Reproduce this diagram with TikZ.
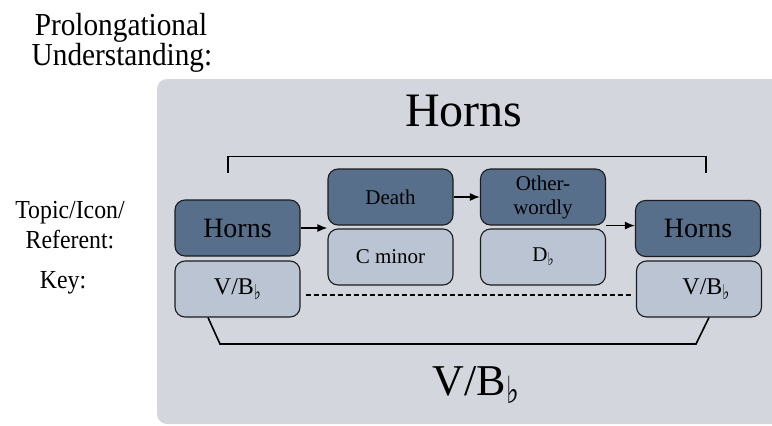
\documentclass[tikz,border=0pt]{standalone}
\usepackage{fontspec}
\setmainfont{Liberation Serif}
\newfontfamily\symfnt{DejaVu Sans}
\usetikzlibrary{arrows.meta,calc}
\definecolor{panelc}{RGB}{211,214,221}
\definecolor{darkbox}{RGB}{88,111,140}
\definecolor{lightbox}{RGB}{186,196,210}
\definecolor{edgec}{RGB}{28,28,30}
\newcommand\sqz[1]{\scalebox{0.915}[1]{#1}}
\newcommand\flt{\raisebox{-0.2em}{\scalebox{0.62}[0.85]{\symfnt ♭}}}
\begin{document}
\begin{tikzpicture}[x=1pt,y=-1pt,
  topbox/.style={draw=edgec, line width=1.1pt, fill=darkbox, rounded corners=10pt,
    minimum width=125pt, minimum height=56pt, inner sep=0pt, align=center,
    font=\fontsize{21}{24}\selectfont},
  keybox/.style={topbox, fill=lightbox},
  bigtext/.style={font=\fontsize{28}{32}\selectfont},
  midtext/.style={font=\fontsize{24}{28}\selectfont},
  sidelabel/.style={anchor=base, inner sep=0pt, font=\fontsize{26}{30}\selectfont},
  headlabel/.style={anchor=base, inner sep=0pt, font=\fontsize{32}{36}\selectfont},
  bracket/.style={line width=1.8pt, draw=black},
  conn/.style={line width=1.5pt, -{Latex[length=10pt,width=8pt]}},
  dashconn/.style={line width=1.5pt, dash pattern=on 5pt off 3pt}
]
\clip (0,0) rectangle (772,426);
\useasboundingbox (0,0) rectangle (772,426);
\fill[white] (0,0) rectangle (772,426);
% panel
\fill[panelc, rounded corners=10pt] (157,79) rectangle (800,424);

% left labels
\node[headlabel] (pl1) at (121,35) {\sqz{Prolongational}};
\node[headlabel] (pl2) at (122,65) {\sqz{Understanding:}};
\node[sidelabel] (tl1) at (70,218) {\sqz{Topic/Icon/}};
\node[sidelabel] (tl2) at (70,248) {\sqz{Referent:}};
\node[sidelabel] (kl) at (63,288) {\sqz{Key:}};

% titles
\node[anchor=base, inner sep=0pt, font=\fontsize{48}{56}\selectfont] (title) at (464,126) {Horns};
\node[anchor=base, inner sep=0pt, font=\fontsize{44}{50}\selectfont] (keyall) at (476,395) {V/B\flt};

% boxes
\node[topbox, bigtext] (lh) at (237.5,228) {Horns};
\node[keybox, midtext] (lv) at (237.5,289) {V/B\flt};
\node[topbox] (de) at (390.5,197) {Death};
\node[keybox] (cm) at (390.5,257) {C minor};
\node[topbox] (ot) at (543,197) {Other-\\wordly};
\node[keybox] (db) at (543,257) {D\flt};
\node[topbox, bigtext] (rh) at (698,228.5) {Horns};
\node[keybox, midtext] (rv) at (699,289) {\hspace*{14pt}V/B\flt};

% arrows
\draw[conn] (lh.east) -- (de.west |- lh.east);
\draw[conn] (de.east) -- (ot.west);
\draw[conn] (ot.south east) -- (rh.west |- ot.south east);

% dashed link
\draw[dashconn] ($(lv.east)+(5,6)$) -- ($(rv.west |- lv.east)+(-3,6)$);

% top bracket
\coordinate (t1) at (228,173);
\coordinate (t2) at (228,156.5);
\coordinate (t3) at (706,156.5);
\coordinate (t4) at (706,173);
\draw[bracket] (t1) -- (t2) -- (t3) -- (t4);

% bottom bracket
\coordinate (b2) at (220,344);
\coordinate (b3) at (696,344);
\draw[line width=1.6pt] ($(lv.south)+(-29.5,0)$) -- (b2) -- (b3) -- ($(rv.south)+(10,0)$);
\end{tikzpicture}
\end{document}
